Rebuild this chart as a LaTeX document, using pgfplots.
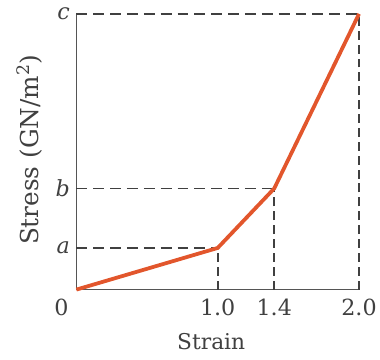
\documentclass[border=0pt]{standalone}
\usepackage{pgfplots}
\pgfplotsset{compat=1.18}
\usepackage{fontspec}
\setmainfont{DejaVu Serif}
\definecolor{curve}{RGB}{226,86,44}
\definecolor{axgray}{RGB}{85,85,85}
\begin{document}
\begin{tikzpicture}
\begin{axis}[
  scale only axis,
  width=285bp, height=278bp,
  xmin=0, xmax=2, ymin=0, ymax=278,
  axis lines*=left,
  axis line style={axgray, line width=1.7bp},
  xtick={1,1.4,2}, xticklabels={1.0,1.4,2.0},
  extra x ticks={0}, extra x tick labels={0},
  extra x tick style={xticklabel style={xshift=-15bp}},
  ytick={42,102,278}, yticklabels={\textit{a},\textit{b},\textit{c}},
  major tick length=0pt,
  /pgf/number format/assume math mode=true,
  ticklabel style={font=\fontsize{22.5}{26}\selectfont, text=black!75},
  xticklabel style={yshift=-6bp},
  yticklabel style={xshift=-3bp},
  xlabel={Strain},
  ylabel={Stress (GN/m\textsuperscript{2})},
  xlabel style={font=\fontsize{22}{26}\selectfont, text=black!75, at={(axis description cs:0.477,-0.187)}, anchor=center},
  ylabel style={font=\fontsize{25}{30}\selectfont, text=black!75, at={(axis description cs:-0.165,0.507)}, anchor=center},
  clip=false,
]
\addplot[black!75, line width=1.8bp, dash pattern=on 11bp off 6bp] coordinates {(0,42) (1,42)};
\addplot[black!75, line width=1.8bp, dash pattern=on 11bp off 6bp] coordinates {(0,102) (1.4,102)};
\addplot[black!75, line width=1.8bp, dash pattern=on 11bp off 6bp] coordinates {(0,278) (2,278)};
\addplot[black!75, line width=1.8bp, dash pattern=on 9bp off 5bp] coordinates {(1,0) (1,42)};
\addplot[black!75, line width=1.8bp, dash pattern=on 9bp off 5bp] coordinates {(1.4,0) (1.4,102)};
\addplot[black!75, line width=1.8bp, dash pattern=on 9bp off 5bp] coordinates {(2,0) (2,278)};
\addplot[curve, line width=3.8bp] coordinates {(0,0) (1,42) (1.4,102) (2,278)};
\end{axis}
\path[use as bounding box] (-77bp,-70bp) rectangle (303bp,292bp);
\end{tikzpicture}
\end{document}
